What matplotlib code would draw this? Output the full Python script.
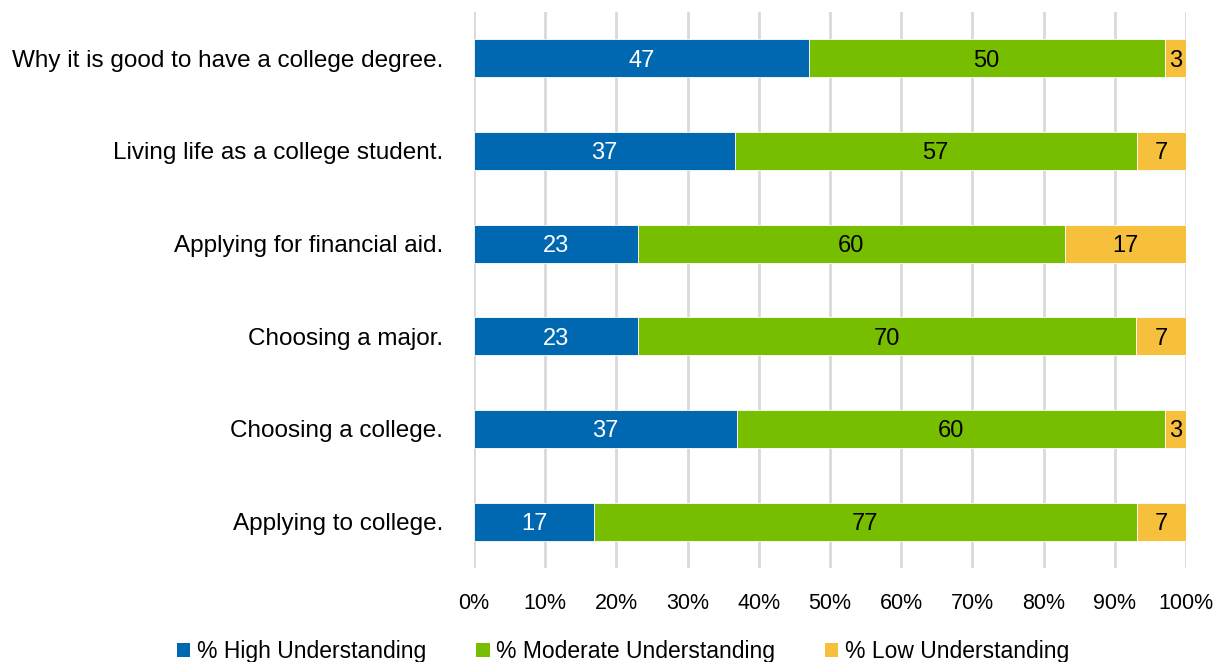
import matplotlib
matplotlib.use("Agg")
import matplotlib.pyplot as plt
import numpy as np
from matplotlib.patches import Patch

categories = [
    "Why it is good to have a college degree.",
    "Living life as a college student.",
    "Applying for financial aid.",
    "Choosing a major.",
    "Choosing a college.",
    "Applying to college.",
]
high = [47, 37, 23, 23, 37, 17]
moderate = [50, 57, 60, 70, 60, 77]
low = [3, 7, 17, 7, 3, 7]

series_names = ["% High Understanding", "% Moderate Understanding", "% Low Understanding"]
colors = ["#0067B1", "#77BD00", "#F6C03C"]
text_colors = ["white", "black", "black"]

plt.rcParams["font.family"] = ["Liberation Sans", "DejaVu Sans"]

fig = plt.figure(figsize=(12.17, 6.62), dpi=100)
ax = fig.add_axes([0.3895, 0.142, 0.585, 0.840])

data = np.array([high, moderate, low], dtype=float)
totals = data.sum(axis=0)
shares = data / totals * 100  # 100% stacked

y = np.arange(len(categories))[::-1]
left = np.zeros(len(categories))
for i in range(3):
    bars = ax.barh(y, shares[i], left=left, height=0.41, color=colors[i],
                   edgecolor="white", linewidth=0.6, zorder=3)
    for j, b in enumerate(bars):
        cx = left[j] + shares[i][j] / 2
        ax.text(cx, y[j], f"{int(data[i][j])}", ha="center", va="center_baseline",
                color=text_colors[i], fontsize=17, zorder=4)
    left += shares[i]

ax.set_xlim(0, 100)
ax.set_ylim(-0.5, len(categories) - 0.5)
ax.set_xticks(np.arange(0, 101, 10))
ax.set_xticklabels([f"{v}%" for v in range(0, 101, 10)], fontsize=15.5)
ax.set_yticks(y)
ax.set_yticklabels(categories, fontsize=17.5)
ax.tick_params(axis="both", length=0)
ax.tick_params(axis="x", pad=18)
ax.tick_params(axis="y", pad=22)
ax.grid(axis="x", color="#D9D9D9", linewidth=2, zorder=0)
for s in ax.spines.values():
    s.set_visible(False)

handles = [Patch(facecolor=c, edgecolor="none") for c in colors]
fig.legend(handles, series_names, loc="lower center", bbox_to_anchor=(0.512, -0.033),
           ncol=3, frameon=False, fontsize=16.5, handlelength=0.6, handleheight=0.6,
           handletextpad=0.3, columnspacing=2.15)

fig.savefig("out.png", dpi=100)
